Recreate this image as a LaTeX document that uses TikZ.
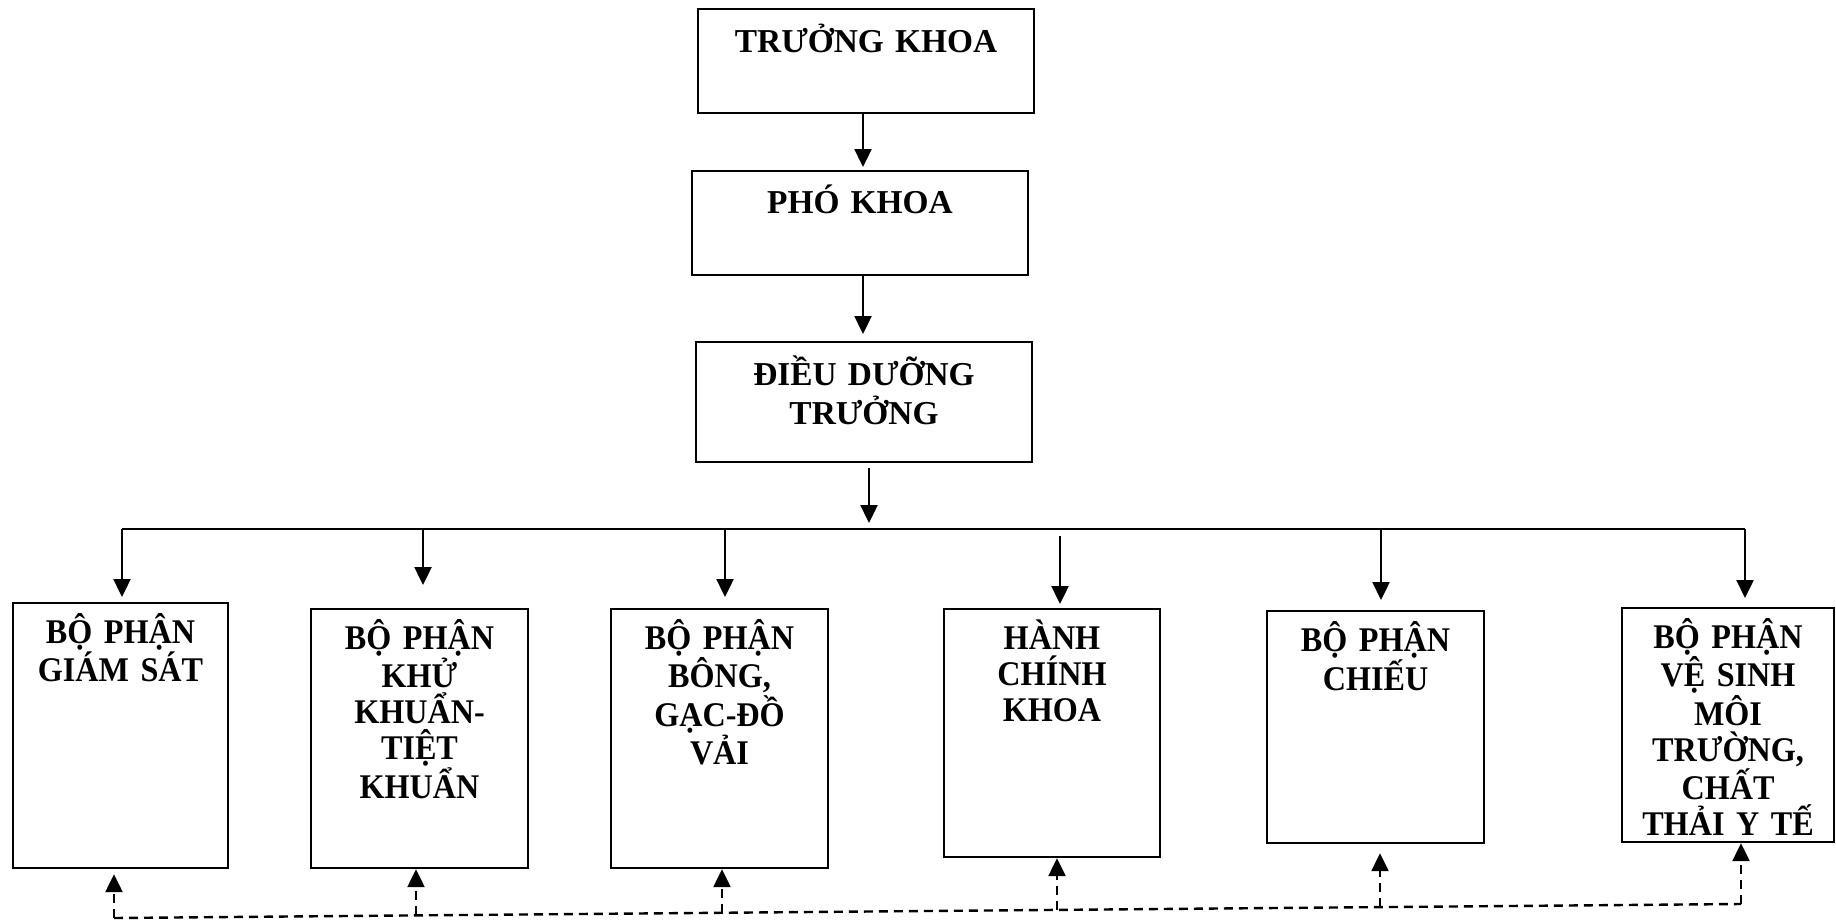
\documentclass[tikz,border=0pt]{standalone}
\usepackage{fontspec}
\setmainfont{Liberation Serif}
\newfontfamily\deptfont[FakeStretch=0.93,WordSpace=0.6]{Liberation Serif}
\usetikzlibrary{arrows.meta,positioning}

\tikzset{
    unit/.style={draw, line width=1.1pt, inner sep=0pt, anchor=north},
    boxtext/.style={font=\fontsize{16.7}{19.5}\selectfont\bfseries, align=center,
        text width=#1, anchor=base, inner sep=0pt},
    depttext/.style={font=\deptfont\fontsize{17.3}{18}\selectfont\bfseries,
        align=center, text width=100pt, anchor=base, inner sep=0pt},
    arr/.style={line width=1.2pt, -{Triangle[width=8.5pt,length=9pt]}},
    dsh/.style={line width=1.2pt, dash pattern=on 4.5pt off 3pt},
}

\begin{document}
\begin{tikzpicture}[x=0.5pt,y=-0.5pt]
    \useasboundingbox (0,0) rectangle (1836,921);
    % Top of the chain
    \node[unit, minimum width=168pt, minimum height=52pt] (tk) at (866,8) {};
    \node[boxtext=160pt] (tk label) at ([yshift=-22pt]tk.north) {TRƯỞNG KHOA};
    \node[unit, minimum width=168pt, minimum height=52pt] (pk) at (860,170) {};
    \node[boxtext=160pt] (pk label) at ([yshift=-21.5pt]pk.north) {PHÓ KHOA};
    \node[unit, minimum width=168pt, minimum height=60pt] (dd) at (864,341) {};
    \node[boxtext=160pt] (dd label) at ([yshift=-22pt]dd.north) {ĐIỀU DƯỠNG\\TRƯỞNG};
    % Departments
    \node[unit, minimum width=107.5pt, minimum height=132.5pt] (gs) at (120.5,602) {};
    \node[unit, minimum width=108.5pt, minimum height=129.5pt] (kk) at (419.5,608) {};
    \node[unit, minimum width=108.5pt, minimum height=129.5pt] (bg) at (719.5,608) {};
    \node[unit, minimum width=108pt, minimum height=124pt] (hc) at (1052,608) {};
    \node[unit, minimum width=108.5pt, minimum height=116pt] (ch) at (1375.5,610) {};
    \node[unit, minimum width=106pt, minimum height=117pt] (vs) at (1728,607) {};
    \node[depttext] (gs label) at ([yshift=-20.5pt]gs.north) {BỘ PHẬN\\GIÁM SÁT};
    \node[depttext] (kk label) at ([yshift=-20.5pt]kk.north) {BỘ PHẬN\\KHỬ\\KHUẨN-\\TIỆT\\KHUẨN};
    \node[depttext] (bg label) at ([yshift=-20.5pt]bg.north) {BỘ PHẬN\\BÔNG,\\GẠC-ĐỒ\\VẢI};
    \node[depttext] (hc label) at ([yshift=-20.5pt]hc.north) {HÀNH\\CHÍNH\\KHOA};
    \node[depttext] (ch label) at ([yshift=-20.5pt]ch.north) {BỘ PHẬN\\CHIẾU};
    \node[depttext] (vs label) at ([yshift=-20.5pt]vs.north) {BỘ PHẬN\\VỆ SINH\\MÔI\\TRƯỜNG,\\CHẤT\\THẢI Y TẾ};
    % Bus
    \coordinate (d1) at (122,529);
    \coordinate (d2) at (423,529);
    \coordinate (d3) at (725,529);
    \coordinate (d4) at (1060,529);
    \coordinate (d5) at (1381,529);
    \coordinate (d6) at (1745,529);
    % Feedback line
    \coordinate (r1) at (114,918);
    \coordinate (r2) at (416,915.4);
    \coordinate (r3) at (722,912.8);
    \coordinate (r4) at (1057,909.9);
    \coordinate (r5) at (1380,907.1);
    \coordinate (r6) at (1741,904);

    \draw[arr, shorten >=1.5pt] (tk.south -| 863,0) -- (pk.north -| 863,0);
    \draw[arr, shorten >=3.5pt] (pk.south -| 863,0) -- (dd.north -| 863,0);
    \draw[arr, shorten <=2.5pt, shorten >=3pt] (dd.south -| 869,0) -- (d1 -| 869,0);
    \draw[line width=1.2pt] (d1) -- (d6);
    \draw[arr, shorten >=2.5pt] (d1) -- (d1 |- gs.north);
    \draw[arr, shorten >=11.5pt] (d2) -- (d2 |- kk.north);
    \draw[arr, shorten >=5.5pt] (d3) -- (d3 |- bg.north);
    \draw[arr, shorten <=3.5pt, shorten >=2pt] (d4) -- (d4 |- hc.north);
    \draw[arr, shorten >=5pt] (d5) -- (d5 |- ch.north);
    \draw[arr, shorten >=4.5pt] (d6) -- (d6 |- vs.north);

    \draw[dsh] (r1) -- (r6);
    \draw[dsh, arr, shorten >=2.5pt] (r1) -- (r1 |- gs.south);
    \draw[dsh, arr] (r2) -- (r2 |- kk.south);
    \draw[dsh, arr] (r3) -- (r3 |- bg.south);
    \draw[dsh, arr] (r4) -- (r4 |- hc.south);
    \draw[dsh, arr, shorten >=4.5pt] (r5) -- (r5 |- ch.south);
    \draw[dsh, arr] (r6) -- (r6 |- vs.south);
\end{tikzpicture}
\end{document}
